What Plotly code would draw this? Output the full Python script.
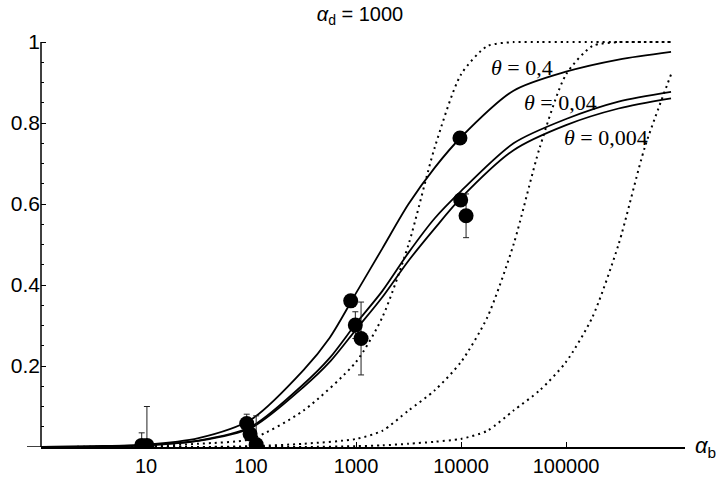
import plotly.graph_objects as go

# ---- data ----
curve_x = [1, 3.16, 10, 31.6, 100, 316, 562, 1000, 1778, 3162, 5623, 10000,
           31623, 100000, 316228, 1000000]
theta_0_4 = [0.0, 0.002, 0.006, 0.022, 0.068, 0.19, 0.27, 0.38, 0.49, 0.60,
             0.69, 0.765, 0.88, 0.927, 0.957, 0.976]
theta_0_04 = [0.0, 0.001, 0.005, 0.016, 0.05, 0.155, 0.22, 0.305, 0.385, 0.48,
              0.565, 0.632, 0.75, 0.81, 0.853, 0.877]
theta_0_004 = [0.0, 0.001, 0.004, 0.015, 0.047, 0.148, 0.21, 0.29, 0.37, 0.46,
               0.54, 0.615, 0.733, 0.795, 0.836, 0.861]

dot_x = [1, 10, 31.6, 100, 316, 1000, 1778, 3162, 5623, 10000, 17783, 31623,
         56234, 100000, 177828, 316228, 562341, 1000000]
dotted_1 = [0.0, 0.002, 0.008, 0.02, 0.09, 0.21, 0.32, 0.5, 0.74, 0.92, 0.99,
            1.0, 1.0, 1.0, 1.0, 1.0, 1.0, 1.0]
dotted_2 = [0.0, 0.0, 0.0, 0.002, 0.008, 0.02, 0.04, 0.09, 0.14, 0.21, 0.32,
            0.5, 0.74, 0.92, 0.99, 1.0, 1.0, 1.0]
dotted_3 = [0.0, 0.0, 0.0, 0.0, 0.0, 0.002, 0.004, 0.008, 0.013, 0.02, 0.04,
            0.09, 0.14, 0.21, 0.32, 0.5, 0.74, 0.92]

pts_x = [9.1, 10.2, 91, 98, 112, 890, 985, 1117, 9770, 9930, 11170]
pts_y = [0.004, 0.004, 0.058, 0.032, 0.006, 0.361, 0.301, 0.268, 0.763, 0.61, 0.571]
pts_err = [0.031, 0.096, 0.023, 0.0, 0.071, 0.0, 0.033, 0.09, 0.0, 0.0, 0.054]

x_tickvals = [10, 100, 1000, 10000, 100000]
x_ticktext = ["10", "100", "1000", "10000", "100000"]
y_tickvals = [0.2, 0.4, 0.6, 0.8, 1.0]
y_ticktext = ["0.2", "0.4", "0.6", "0.8", "1"]

theta_labels = ["<i>θ</i> = 0,4", "<i>θ</i> = 0,04", "<i>θ</i> = 0,004"]
title_text = "<i>α</i><sub>d</sub> = 1000"
xlabel_text = "<i>α</i><sub>b</sub>"

fig = go.Figure()

for ys in (dotted_1, dotted_2, dotted_3):
    fig.add_trace(go.Scatter(x=dot_x, y=ys, mode="lines",
                             line=dict(color="black", width=2, dash="2px,4px",
                                       shape="spline", smoothing=0.7),
                             hoverinfo="skip", showlegend=False))

for ys in (theta_0_4, theta_0_04, theta_0_004):
    fig.add_trace(go.Scatter(x=curve_x, y=ys, mode="lines",
                             line=dict(color="black", width=1.8,
                                       shape="spline", smoothing=0.8),
                             showlegend=False))

fig.add_trace(go.Scatter(
    x=pts_x, y=pts_y, mode="markers",
    marker=dict(color="black", size=15),
    error_y=dict(type="data", array=pts_err, symmetric=True,
                 color="#222", thickness=1, width=3),
    showlegend=False))

font_sans = "Liberation Sans, Arial, sans-serif"
font_serif = "Liberation Serif, Times New Roman, serif"

fig.update_layout(
    width=720, height=477,
    margin=dict(l=41, r=35, t=34, b=30),
    plot_bgcolor="white", paper_bgcolor="white",
    title=dict(text=title_text, x=0.5, xanchor="center", y=1 - 14 / 477,
               yanchor="middle", font=dict(family=font_sans, size=20, color="black")),
    xaxis=dict(type="log", range=[0, 6.133], tickvals=x_tickvals, ticktext=x_ticktext,
               ticks="inside", ticklen=5, tickcolor="black", tickwidth=1,
               showline=True, linecolor="black", linewidth=1.5,
               showgrid=False, zeroline=False, automargin=False,
               tickfont=dict(family=font_sans, size=20, color="black")),
    yaxis=dict(range=[0, 1.02], tickvals=y_tickvals, ticktext=y_ticktext,
               ticks="inside", ticklen=5, tickcolor="black", tickwidth=1,
               showline=False, showgrid=False, zeroline=False, automargin=False,
               minor=dict(ticks="inside", ticklen=3, tick0=0, dtick=0.05,
                          tickcolor="black", tickwidth=1),
               tickfont=dict(family=font_sans, size=21, color="black")),
    shapes=[
        dict(type="line", xref="paper", yref="y", x0=0, x1=0, y0=0, y1=1,
             line=dict(color="black", width=1.5)),
        dict(type="line", xref="paper", yref="y", x0=-14 / 644, x1=0, y0=0, y1=0,
             line=dict(color="black", width=1.5)),
    ],
    annotations=[
        dict(x=4.58, y=0.938, xref="x", yref="y", text=theta_labels[0], showarrow=False,
             font=dict(family=font_serif, size=22, color="black")),
        dict(x=4.95, y=0.852, xref="x", yref="y", text=theta_labels[1], showarrow=False,
             font=dict(family=font_serif, size=22, color="black")),
        dict(x=5.38, y=0.765, xref="x", yref="y", text=theta_labels[2], showarrow=False,
             font=dict(family=font_serif, size=22, color="black")),
        dict(x=(705 - 41) / 644, y=0, xref="paper", yref="y", text=xlabel_text,
             showarrow=False, xanchor="center", yanchor="middle",
             font=dict(family=font_sans, size=22, color="black")),
    ],
)

fig.write_html("out.html", config={"displayModeBar": False},
               post_script="document.body.style.margin='0';document.body.style.padding='0';")
